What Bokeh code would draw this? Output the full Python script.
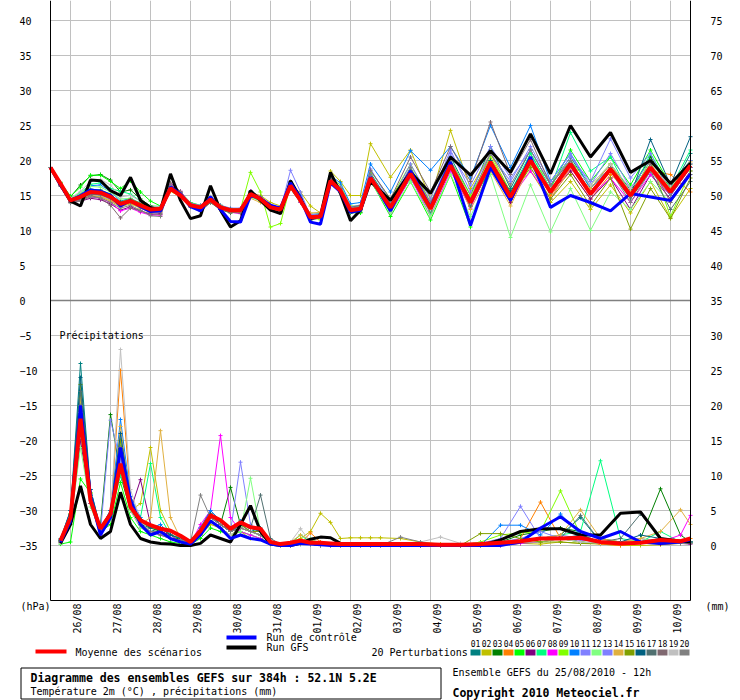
import math
from bokeh.plotting import figure
from bokeh.models import Range1d, LinearAxis, FixedTicker
from bokeh.core.properties import value
from bokeh.embed import file_html
from bokeh.resources import INLINE

# ---------------- time axes (hours after 25/08/2010 12h) ----------------
TEMP_HOURS = list(range(0, 193, 6)) + list(range(204, 385, 12))
PRECIP_HOURS = list(range(6, 193, 6)) + list(range(198, 379, 12)) + [384]

DATE_LABELS = ["26/08", "27/08", "28/08", "29/08", "30/08", "31/08", "01/09", "02/09",
               "03/09", "04/09", "05/09", "06/09", "07/09", "08/09", "09/09", "10/09"]
DAY_HOURS = [12 + 24 * k for k in range(16)]
LEFT_TICKS = list(range(-35, 41, 5))
RIGHT_TICKS = list(range(0, 76, 5))
PRECIP_BASE = -35  # 0 mm on the left scale

# ---------------- temperature 2m (degC) ----------------
T_MEAN = [19.0, 16.7, 14.3, 14.8, 15.5, 15.4, 14.8, 13.8, 14.2, 13.6, 13.0, 13.1, 16.0, 15.0, 13.6, 13.3, 14.4,
          13.3, 12.9, 12.9, 15.2, 14.5, 13.3, 13.0, 16.4, 14.3, 11.9, 12.0, 17.1, 15.7, 12.9, 13.1, 17.5,
          13.3, 18.1, 13.1, 19.3, 14.0, 19.8, 14.8, 20.0, 15.5, 19.5, 15.2, 18.8, 15.0, 19.0, 15.5, 19.3]
T_CTRL = [19.0, 16.5, 14.3, 15.0, 15.8, 15.6, 15.0, 13.5, 14.3, 13.4, 12.7, 12.8, 16.2, 15.2, 13.4, 12.8, 14.8,
          13.0, 11.3, 11.2, 15.0, 14.6, 13.6, 13.2, 16.8, 14.6, 11.2, 10.9, 16.8, 15.5, 12.6, 12.9, 17.6,
          12.8, 18.5, 13.3, 19.8, 10.7, 19.0, 14.3, 20.5, 13.3, 15.0, 14.0, 12.8, 15.3, 14.8, 14.3, 18.1]
T_GFS = [19.0, 16.5, 14.2, 13.5, 17.2, 17.1, 15.7, 15.0, 17.6, 14.3, 13.3, 12.9, 18.1, 14.3, 11.7, 12.1, 16.4,
         12.9, 10.5, 11.4, 15.7, 14.3, 12.9, 12.4, 17.1, 14.6, 11.7, 12.1, 18.3, 15.3, 11.4, 12.9, 17.0,
         14.3, 18.3, 15.3, 20.5, 17.9, 21.4, 18.3, 23.8, 18.1, 25.0, 20.5, 24.0, 18.3, 20.0, 16.7, 19.6]

T01 = [19.0, 16.6, 14.5, 15.0, 15.9, 15.8, 15.2, 14.0, 14.4, 13.8, 13.2, 13.4, 16.3, 15.2, 13.8, 13.5, 14.7, 13.6, 13.1, 13.0, 15.6, 14.8, 13.6, 13.3, 16.8, 14.7, 12.3, 12.4, 17.6, 16.0, 13.4, 13.5, 18.2,
       13.8, 19.0, 13.6, 20.5, 15.0, 22.0, 16.0, 21.5, 16.5, 20.5, 16.0, 19.5, 15.8, 20.5, 15.5, 21.0]
T02 = [19.0, 16.4, 14.0, 14.4, 15.0, 14.8, 14.2, 13.4, 13.8, 13.2, 12.6, 12.8, 15.6, 14.8, 13.4, 13.2, 14.2, 13.2, 12.6, 12.6, 15.4, 15.0, 14.0, 13.5, 16.0, 15.5, 13.5, 12.5, 18.5, 17.0, 15.0, 15.0, 22.4,
       17.6, 21.5, 14.5, 24.3, 16.0, 21.0, 15.5, 18.5, 14.0, 17.0, 13.0, 16.5, 12.5, 17.0, 11.8, 16.0]
T03 = [19.0, 16.8, 14.8, 16.5, 17.8, 18.0, 17.2, 15.5, 15.8, 14.5, 13.5, 13.4, 16.2, 15.0, 13.5, 13.0, 14.0, 13.0, 12.5, 12.8, 15.0, 14.2, 13.0, 12.8, 16.0, 14.0, 11.5, 11.8, 17.0, 15.4, 12.5, 12.6, 17.0,
       12.8, 17.5, 12.8, 18.8, 13.5, 19.0, 14.5, 19.5, 15.2, 19.8, 15.0, 19.0, 15.5, 20.5, 16.0, 19.5]
T04 = [19.0, 16.7, 14.2, 14.6, 15.3, 15.1, 14.5, 13.6, 14.0, 13.4, 12.8, 12.9, 15.8, 14.8, 13.4, 13.1, 14.3, 13.2, 12.8, 12.7, 15.0, 14.3, 13.1, 12.8, 16.2, 14.2, 11.8, 12.1, 17.3, 15.8, 13.0, 13.0, 17.7,
       13.0, 18.0, 12.6, 19.0, 13.5, 19.5, 14.0, 20.0, 15.0, 18.5, 14.5, 18.0, 15.5, 18.5, 18.0, 15.5]
T05 = [19.0, 16.9, 14.9, 16.2, 17.9, 17.9, 17.0, 16.0, 17.1, 15.5, 14.2, 13.5, 16.5, 15.5, 14.0, 13.6, 14.8, 13.6, 13.0, 13.1, 15.5, 14.6, 13.4, 13.2, 16.3, 14.5, 12.2, 12.0, 17.0, 15.5, 12.6, 12.5, 17.2,
       12.0, 17.0, 11.5, 18.0, 10.5, 20.0, 14.0, 21.0, 16.0, 21.5, 17.0, 20.5, 16.5, 21.5, 16.5, 20.0]
T06 = [19.0, 16.5, 14.0, 14.2, 14.6, 14.4, 13.8, 12.9, 13.4, 12.8, 12.3, 12.4, 16.3, 15.3, 13.5, 13.0, 14.5, 13.4, 12.8, 12.9, 15.3, 14.4, 13.1, 12.9, 16.5, 14.4, 12.0, 12.2, 17.4, 15.9, 13.0, 13.3, 17.6,
       13.5, 18.3, 13.5, 19.5, 14.5, 19.0, 14.0, 19.5, 15.5, 18.5, 14.5, 17.5, 13.0, 18.0, 14.5, 18.5]
T07 = [19.0, 16.8, 14.6, 15.4, 16.6, 16.8, 16.0, 15.6, 15.2, 14.2, 13.4, 13.5, 16.0, 15.0, 13.7, 13.4, 14.2, 13.2, 12.9, 13.0, 14.8, 14.2, 13.2, 12.9, 16.0, 14.0, 11.7, 11.9, 16.8, 15.5, 12.8, 13.0, 17.0,
       13.0, 17.5, 12.5, 19.0, 13.5, 20.0, 15.5, 21.0, 16.0, 24.0, 18.5, 20.5, 15.0, 21.0, 16.0, 21.5]
T08 = [19.0, 16.6, 14.1, 14.3, 14.8, 14.6, 14.0, 12.8, 13.2, 12.6, 12.2, 12.2, 16.6, 15.6, 13.8, 13.2, 14.6, 13.4, 12.6, 12.4, 15.6, 14.8, 13.4, 13.0, 16.2, 14.0, 11.6, 11.8, 16.8, 15.6, 13.0, 13.1, 17.4,
       12.5, 17.6, 12.0, 18.5, 13.2, 19.5, 14.5, 18.5, 14.5, 19.0, 15.0, 17.5, 14.0, 18.0, 15.0, 19.0]
T09 = [19.0, 16.8, 14.4, 14.7, 15.4, 15.2, 14.7, 13.8, 14.3, 13.6, 13.0, 13.2, 16.0, 15.2, 13.8, 13.5, 14.5, 13.5, 13.0, 13.0, 18.3, 15.5, 10.5, 11.0, 16.5, 14.5, 12.0, 11.5, 17.5, 16.5, 13.5, 13.5, 18.5,
       14.5, 19.5, 14.0, 20.0, 15.0, 20.5, 15.5, 20.0, 17.0, 20.0, 16.5, 19.5, 15.0, 20.0, 12.0, 18.5]
T10 = [19.0, 16.7, 14.3, 15.2, 16.4, 16.5, 15.6, 14.2, 14.6, 13.9, 13.2, 13.3, 16.1, 15.1, 13.6, 13.2, 14.2, 13.1, 12.7, 12.8, 15.2, 14.6, 13.5, 13.3, 17.0, 15.0, 12.0, 11.8, 17.8, 16.8, 13.8, 14.0, 19.5,
       15.5, 21.4, 18.6, 22.0, 17.5, 25.0, 19.0, 25.0, 17.0, 21.0, 16.0, 19.0, 15.5, 19.5, 15.0, 19.0]
T11 = [19.0, 16.6, 14.2, 14.7, 15.5, 15.5, 15.0, 13.9, 14.2, 13.5, 12.9, 13.0, 16.0, 14.9, 13.5, 13.1, 14.3, 13.2, 12.8, 12.7, 15.1, 14.5, 13.3, 13.0, 18.6, 15.5, 12.0, 12.2, 17.2, 15.8, 13.0, 13.1, 17.8,
       13.4, 18.5, 13.5, 21.0, 16.5, 22.0, 17.5, 21.5, 16.5, 20.5, 17.0, 23.1, 17.5, 21.0, 15.5, 19.5]
T12 = [19.0, 16.8, 14.6, 15.3, 16.3, 16.2, 15.5, 14.5, 14.6, 13.8, 13.1, 13.2, 16.1, 15.0, 13.5, 13.2, 14.4, 13.3, 12.9, 12.9, 15.0, 14.4, 13.2, 12.9, 16.3, 14.2, 11.8, 12.0, 16.9, 15.5, 12.6, 12.8, 17.0,
       12.5, 17.0, 12.0, 18.0, 12.0, 18.0, 9.0, 16.5, 9.8, 16.0, 10.0, 15.5, 13.0, 17.0, 14.0, 18.0]
T13 = [19.0, 16.5, 14.2, 14.5, 15.2, 15.0, 14.4, 13.5, 14.0, 13.4, 12.8, 12.8, 16.4, 15.4, 13.9, 13.6, 14.8, 13.6, 13.2, 13.2, 15.4, 14.6, 13.3, 13.1, 17.0, 14.8, 12.3, 12.3, 17.6, 16.2, 13.4, 13.6, 18.8,
       14.0, 19.5, 14.5, 21.5, 15.5, 21.0, 17.0, 22.0, 17.0, 21.0, 16.5, 21.0, 16.0, 20.0, 16.5, 20.0]
T14 = [19.0, 16.6, 14.3, 14.4, 14.9, 14.9, 14.3, 13.4, 13.9, 13.2, 12.6, 12.6, 15.8, 14.8, 13.3, 13.0, 14.2, 13.2, 12.8, 12.7, 14.6, 14.0, 13.0, 12.8, 16.0, 14.2, 12.5, 12.6, 16.8, 15.6, 13.2, 13.3, 17.3,
       13.6, 18.6, 13.8, 19.5, 13.0, 18.5, 13.5, 19.5, 14.5, 19.0, 16.0, 19.5, 15.5, 19.5, 16.0, 19.8]
T15 = [19.0, 16.7, 14.5, 15.0, 15.7, 15.6, 15.0, 14.1, 14.5, 13.9, 13.3, 13.3, 16.2, 15.1, 13.7, 13.4, 14.6, 13.5, 13.1, 13.1, 15.0, 14.3, 13.1, 12.8, 16.5, 14.5, 12.0, 12.0, 17.2, 15.6, 12.8, 12.9, 17.6,
       13.2, 18.5, 13.5, 19.5, 14.5, 20.0, 15.0, 19.0, 14.5, 18.0, 13.5, 17.5, 10.2, 16.0, 11.7, 17.5]
T16 = [19.0, 16.6, 14.3, 14.8, 15.6, 15.6, 15.0, 14.0, 14.3, 13.6, 13.0, 13.1, 16.3, 15.4, 13.7, 13.3, 14.6, 13.4, 13.0, 13.0, 15.3, 14.5, 13.4, 13.1, 16.5, 14.5, 12.1, 12.2, 17.3, 15.9, 13.1, 13.2, 17.7,
       13.6, 18.5, 13.3, 19.5, 14.0, 20.0, 15.5, 20.5, 15.8, 20.0, 15.5, 19.0, 15.0, 23.0, 16.5, 23.4]
T17 = [19.0, 16.5, 14.1, 14.5, 15.2, 15.1, 14.6, 13.6, 14.1, 13.5, 12.9, 13.0, 15.9, 14.9, 13.4, 13.1, 14.3, 13.2, 12.8, 12.8, 15.1, 14.4, 13.2, 12.9, 16.3, 14.2, 11.9, 12.0, 17.0, 15.7, 12.8, 13.0, 17.4,
       13.0, 18.0, 12.8, 19.0, 13.5, 19.5, 14.5, 20.0, 15.5, 19.5, 15.0, 18.5, 14.5, 18.5, 13.0, 17.0]
T18 = [19.0, 16.4, 14.0, 14.3, 15.0, 14.6, 13.6, 11.8, 13.2, 12.8, 12.4, 12.3, 16.8, 15.6, 13.6, 12.7, 14.0, 13.0, 12.6, 12.5, 15.5, 14.8, 13.5, 13.2, 16.6, 14.3, 11.8, 11.9, 17.5, 16.0, 13.3, 13.6, 18.6,
       14.5, 20.5, 15.5, 22.0, 17.0, 25.5, 18.0, 23.0, 16.5, 20.0, 15.5, 19.0, 15.0, 19.5, 14.0, 18.0]
T19 = [19.0, 16.7, 14.6, 15.6, 17.0, 17.3, 16.5, 14.8, 15.0, 14.2, 13.4, 13.4, 16.0, 15.0, 13.6, 13.3, 14.4, 13.3, 12.9, 13.0, 15.2, 14.5, 13.4, 13.1, 16.5, 14.4, 12.0, 12.1, 17.2, 15.8, 13.0, 13.2, 17.6,
       13.5, 18.2, 13.0, 19.0, 14.0, 19.5, 15.0, 20.5, 16.0, 19.5, 16.5, 19.5, 16.0, 19.0, 16.5, 19.5]
T20 = [19.0, 16.3, 13.9, 14.2, 14.8, 14.7, 14.0, 13.2, 13.6, 12.9, 12.1, 12.0, 16.4, 15.4, 13.8, 13.4, 14.7, 13.5, 13.0, 12.8, 15.1, 14.4, 13.0, 12.6, 16.6, 14.5, 12.0, 12.0, 17.6, 16.1, 13.2, 13.4, 18.0,
       13.8, 19.0, 14.0, 20.0, 14.5, 21.0, 16.5, 21.5, 16.5, 20.0, 15.0, 18.5, 14.0, 18.5, 15.0, 19.0]

# ---------------- precipitation (mm) ----------------
R_MEAN = [0.7, 4.0, 18.1, 6.4, 2.4, 4.5, 11.7, 5.5, 3.6, 2.9, 2.4, 2.1, 1.4, 0.5, 2.1, 4.3, 3.6, 2.4, 3.3, 2.6,
          2.4, 0.5, 0.2, 0.4, 0.7, 0.4, 0.4, 0.3, 0.2, 0.2, 0.2, 0.2,
          0.2, 0.2, 0.2, 0.1, 0.1, 0.2, 0.4, 0.6, 1.0, 1.0, 1.1, 0.5, 0.3, 0.4, 0.8, 0.6, 1.0]
R_CTRL = [0.5, 3.5, 20.0, 7.0, 1.5, 4.0, 14.0, 6.5, 3.0, 1.5, 2.0, 1.0, 0.5, 0.2, 1.5, 3.5, 2.5, 1.0, 1.5, 1.0,
          0.8, 0.2, 0.0, 0.0, 0.3, 0.2, 0.1, 0.0, 0.0, 0.0, 0.0, 0.0,
          0.0, 0.0, 0.0, 0.0, 0.0, 0.0, 0.0, 0.5, 2.5, 4.1, 2.0, 1.0, 2.0, 0.5, 0.3, 0.5, 0.8]
R_GFS = [0.3, 3.0, 8.5, 3.0, 1.0, 2.0, 7.6, 3.0, 1.0, 0.5, 0.3, 0.2, 0.0, 0.0, 0.3, 1.5, 1.0, 0.5, 3.0, 5.7,
         2.0, 0.2, 0.0, 0.0, 0.3, 0.9, 1.2, 1.1, 0.3, 0.0, 0.0, 0.0,
         0.0, 0.0, 0.1, 0.0, 0.0, 0.0, 0.8, 2.0, 2.4, 2.4, 1.5, 1.5, 4.6, 4.8, 1.0, 0.6, 0.5]

R01 = [1.0, 5.0, 26.0, 8.0, 2.0, 5.0, 14.0, 6.0, 3.5, 2.0, 2.5, 1.5, 1.0, 0.5, 2.5, 5.0, 3.5, 2.0, 3.0, 2.0, 2.5, 0.5, 0.2, 0.0, 0.5, 0.2, 0.0, 0.0, 0.0, 0.0, 0.0, 0.0,
       0.0, 0.0, 0.0, 0.0, 0.0, 0.0, 0.2, 0.5, 1.0, 1.5, 4.0, 0.5, 0.2, 0.5, 1.0, 0.5, 0.5]
R02 = [0.5, 4.5, 22.0, 7.0, 2.0, 4.0, 12.0, 5.0, 6.0, 14.0, 5.0, 2.0, 1.0, 0.5, 1.5, 3.0, 2.5, 1.5, 2.0, 1.0, 1.0, 0.3, 0.1, 0.5, 1.0, 2.0, 4.6, 3.3, 1.0, 1.1, 1.1, 1.1,
       1.1, 1.0, 0.5, 0.2, 0.0, 0.1, 0.5, 0.3, 0.2, 0.5, 0.3, 0.2, 0.0, 0.0, 0.1, 0.3, 0.5]
R03 = [0.7, 4.0, 20.0, 6.0, 3.0, 18.7, 10.0, 5.0, 3.0, 2.5, 2.0, 1.0, 1.0, 0.3, 2.0, 4.0, 3.0, 8.3, 3.0, 2.0, 1.5, 0.3, 0.0, 0.0, 0.2, 0.3, 0.0, 0.0, 0.0, 0.0, 0.0, 0.0,
       0.0, 0.0, 0.0, 0.0, 0.0, 0.0, 0.5, 1.5, 2.0, 2.5, 2.0, 1.0, 0.5, 1.0, 8.1, 1.5, 0.5]
R04 = [0.5, 3.5, 17.0, 6.0, 2.0, 4.0, 25.0, 7.0, 3.0, 2.0, 2.0, 1.5, 1.0, 0.5, 1.5, 4.0, 3.0, 2.0, 3.5, 2.5, 2.0, 0.5, 0.0, 0.0, 0.3, 1.8, 0.5, 0.0, 0.0, 0.0, 0.0, 0.0,
       0.0, 0.0, 0.0, 0.0, 0.0, 0.0, 0.2, 1.0, 6.2, 1.0, 0.5, 0.2, 0.0, 0.5, 0.3, 0.5, 1.0]
R05 = [0.2, 0.5, 9.5, 7.5, 2.0, 3.0, 9.0, 4.0, 2.0, 1.5, 1.0, 0.5, 0.3, 0.2, 1.0, 2.5, 2.0, 1.5, 2.0, 1.5, 1.0, 0.2, 0.0, 0.0, 0.2, 0.5, 0.0, 0.0, 0.0, 0.0, 0.0, 0.0,
       0.0, 0.0, 0.0, 0.0, 0.0, 0.0, 0.0, 0.3, 0.5, 1.0, 0.5, 0.3, 0.2, 0.3, 0.5, 0.5, 0.5]
R06 = [0.5, 3.0, 15.0, 6.0, 1.5, 3.5, 12.0, 5.0, 9.4, 3.0, 2.0, 1.5, 0.5, 0.3, 2.0, 4.5, 3.0, 2.0, 2.5, 2.0, 1.5, 0.3, 0.0, 0.0, 0.3, 0.5, 0.0, 0.0, 0.0, 0.0, 0.0, 0.0,
       0.0, 0.0, 0.0, 0.0, 0.0, 0.0, 0.2, 0.5, 1.0, 1.2, 0.5, 0.3, 0.3, 0.5, 0.2, 0.3, 0.2]
R07 = [0.6, 4.0, 16.0, 7.0, 2.5, 4.5, 10.0, 6.0, 4.0, 11.7, 4.0, 1.5, 1.0, 0.5, 1.5, 3.5, 2.5, 1.5, 2.5, 2.0, 1.5, 0.3, 0.0, 0.3, 1.5, 0.5, 0.0, 0.0, 0.0, 0.0, 0.0, 0.0,
       0.0, 0.0, 0.0, 0.0, 0.0, 0.0, 0.2, 0.5, 1.0, 1.5, 2.0, 12.1, 1.0, 0.5, 2.0, 0.5, 0.5]
R08 = [0.4, 3.5, 19.0, 6.0, 2.0, 3.5, 13.0, 5.0, 2.5, 2.0, 1.5, 1.0, 0.5, 0.3, 3.0, 5.0, 15.7, 4.0, 2.0, 1.5, 1.0, 0.2, 0.0, 0.0, 0.2, 0.3, 0.0, 0.0, 0.0, 0.0, 0.0, 0.0,
       0.0, 0.0, 0.0, 0.0, 0.0, 0.0, 0.0, 0.3, 0.5, 1.0, 0.8, 0.5, 0.5, 1.0, 0.5, 1.5, 4.3]
R09 = [0.6, 4.5, 21.0, 7.5, 2.5, 4.0, 15.0, 6.0, 3.0, 2.0, 2.0, 1.0, 0.8, 0.3, 2.0, 4.0, 3.0, 2.0, 3.0, 2.0, 1.5, 0.2, 0.0, 0.0, 0.5, 0.3, 0.0, 0.0, 0.0, 0.0, 0.0, 0.0,
       0.0, 0.0, 0.0, 0.0, 0.0, 0.5, 1.5, 1.8, 2.0, 7.8, 1.5, 0.5, 0.3, 0.5, 0.5, 0.3, 0.5]
R10 = [0.8, 5.0, 22.0, 8.0, 2.5, 5.0, 18.0, 7.0, 4.0, 2.5, 3.0, 1.5, 1.0, 0.5, 2.5, 5.0, 3.5, 2.5, 3.5, 2.5, 2.0, 0.5, 0.2, 0.0, 0.3, 0.2, 0.0, 0.0, 0.0, 0.0, 0.0, 0.0,
       0.0, 0.0, 0.0, 0.0, 0.0, 0.0, 2.9, 2.9, 1.5, 4.5, 1.5, 0.5, 0.3, 0.5, 1.0, 0.5, 0.5]
R11 = [0.5, 4.0, 18.0, 6.5, 2.0, 17.9, 12.0, 6.0, 3.0, 2.0, 2.0, 1.0, 0.5, 0.3, 2.0, 4.0, 3.0, 2.0, 11.9, 3.0, 2.0, 0.3, 0.0, 0.0, 0.3, 0.2, 0.0, 0.0, 0.0, 0.0, 0.0, 0.0,
       0.0, 0.0, 0.0, 0.0, 0.0, 0.3, 1.0, 5.6, 1.0, 1.5, 1.0, 0.5, 0.3, 0.5, 0.5, 0.3, 0.5]
R12 = [0.4, 3.0, 14.0, 5.5, 2.0, 3.5, 11.0, 5.0, 2.5, 2.0, 1.5, 1.0, 0.5, 0.3, 1.5, 3.5, 2.5, 1.5, 2.0, 9.6, 2.0, 0.3, 0.0, 0.0, 0.5, 1.0, 0.3, 0.0, 0.0, 0.0, 0.0, 0.0,
       0.0, 0.0, 0.0, 0.0, 0.0, 0.0, 0.2, 0.5, 0.5, 1.0, 0.5, 0.3, 0.3, 1.0, 0.5, 0.5, 0.3]
R13 = [0.5, 3.5, 20.0, 7.0, 2.0, 4.0, 16.0, 6.0, 3.0, 2.0, 1.5, 1.0, 0.5, 0.3, 2.0, 4.0, 3.0, 2.0, 3.0, 2.0, 1.5, 0.3, 0.0, 0.0, 0.3, 0.2, 0.0, 0.0, 0.0, 0.0, 0.0, 0.0,
       0.0, 0.0, 0.0, 0.0, 0.0, 0.0, 0.5, 1.0, 2.0, 1.0, 0.8, 0.5, 0.3, 0.3, 0.5, 0.5, 0.3]
R14 = [0.5, 4.0, 21.0, 7.0, 2.0, 4.0, 17.0, 6.0, 3.0, 4.0, 16.4, 4.0, 1.0, 0.5, 1.5, 3.5, 2.5, 1.5, 2.5, 2.0, 1.5, 0.3, 0.0, 0.5, 1.5, 0.8, 0.3, 0.0, 0.0, 0.0, 0.0, 0.0,
       0.0, 0.0, 0.0, 0.0, 0.0, 0.0, 0.3, 0.5, 1.0, 1.5, 5.1, 1.0, 0.5, 1.0, 2.0, 5.1, 3.0]
R15 = [0.7, 4.5, 23.0, 7.5, 2.5, 4.5, 15.0, 6.5, 3.5, 2.5, 2.5, 1.5, 1.0, 0.5, 2.0, 4.5, 3.0, 2.0, 3.0, 2.0, 2.0, 0.5, 0.0, 0.0, 0.3, 0.3, 0.0, 0.0, 0.0, 0.0, 0.0, 0.0,
       0.0, 0.0, 0.0, 0.0, 0.0, 1.7, 1.7, 1.0, 0.5, 0.5, 0.3, 0.3, 0.2, 0.3, 0.5, 0.3, 0.3]
R16 = [0.8, 5.0, 24.0, 8.0, 2.5, 5.0, 16.0, 6.5, 3.5, 2.5, 2.5, 1.5, 1.0, 0.5, 2.0, 4.5, 3.0, 2.0, 3.0, 2.5, 2.0, 0.5, 0.2, 0.0, 0.3, 0.2, 0.0, 0.0, 0.0, 0.0, 0.0, 0.0,
       0.0, 0.0, 0.0, 0.0, 0.0, 0.0, 0.3, 0.5, 1.0, 1.0, 1.5, 0.5, 0.5, 1.5, 1.0, 0.5, 0.5]
R17 = [0.6, 4.5, 22.0, 7.0, 2.5, 4.5, 14.0, 6.0, 3.0, 2.0, 2.0, 1.0, 0.8, 0.5, 2.0, 4.0, 3.0, 2.0, 3.0, 2.5, 7.2, 1.0, 0.2, 0.0, 0.3, 0.2, 0.0, 0.0, 0.0, 0.0, 0.0, 0.0,
       0.0, 0.0, 0.0, 0.0, 0.0, 0.0, 0.3, 0.5, 1.0, 1.0, 4.3, 0.5, 1.0, 4.5, 1.0, 0.5, 0.5]
R18 = [0.5, 3.5, 18.0, 6.0, 2.0, 4.0, 13.0, 5.5, 3.0, 2.0, 1.5, 1.0, 0.5, 0.3, 2.0, 4.0, 3.0, 2.0, 2.5, 2.0, 1.5, 0.3, 0.0, 0.0, 0.2, 0.2, 0.0, 0.0, 0.0, 0.0, 0.0, 0.0,
       0.0, 0.0, 0.0, 0.0, 0.0, 0.0, 0.2, 0.5, 1.0, 1.0, 1.0, 0.5, 0.3, 0.5, 0.5, 0.3, 0.3]
R19 = [0.5, 4.0, 19.0, 7.0, 2.0, 4.0, 28.0, 8.0, 3.5, 2.0, 2.0, 1.0, 0.5, 0.3, 1.5, 3.5, 2.5, 1.5, 2.5, 2.0, 1.5, 0.3, 0.0, 0.5, 2.4, 0.5, 0.0, 0.0, 0.0, 0.0, 0.0, 0.0,
       0.0, 0.0, 0.5, 1.2, 0.3, 0.0, 0.2, 0.5, 1.0, 1.0, 0.5, 0.3, 0.3, 0.5, 0.5, 0.3, 0.3]
R20 = [0.6, 4.0, 20.0, 7.0, 2.0, 4.0, 14.0, 6.0, 3.0, 2.0, 2.0, 1.0, 0.8, 0.5, 7.2, 4.0, 3.0, 2.0, 2.5, 2.0, 1.5, 0.3, 0.0, 0.0, 0.2, 0.2, 0.0, 0.0, 0.0, 0.0, 0.0, 0.0,
       0.0, 1.2, 0.5, 0.0, 0.0, 0.0, 0.2, 0.5, 1.0, 1.0, 1.0, 0.5, 0.3, 0.5, 0.5, 0.3, 0.3]

MEMBER_NAMES = ["01", "02", "03", "04", "05", "06", "07", "08", "09", "10",
                "11", "12", "13", "14", "15", "16", "17", "18", "19", "20"]
MEMBER_COLORS = ["#008080", "#c0c000", "#008000", "#ff8000", "#00ff00", "#800080", "#00ff80", "#ff00ff",
                 "#80ff00", "#0080ff", "#8080ff", "#80ff80", "#7f7fff", "#e0b040", "#80a000", "#006080",
                 "#507070", "#806870", "#c0c0c0", "#808080"]
MEMBER_T = [T01, T02, T03, T04, T05, T06, T07, T08, T09, T10, T11, T12, T13, T14, T15, T16, T17, T18, T19, T20]
MEMBER_R = [R01, R02, R03, R04, R05, R06, R07, R08, R09, R10, R11, R12, R13, R14, R15, R16, R17, R18, R19, R20]

FONT = "DejaVu Sans Mono"

# page pixel -> data helpers (used only to place furniture: legend, box, captions)
def hx(X):
    return (X - 50) * 0.6

def vy(Y):
    return (300 - Y) / 7.0

TOP, BOTTOM = vy(0), vy(600)
START, END = TEMP_HOURS[0], TEMP_HOURS[-1]

# ---------------- figure: the frame covers the whole canvas ----------------
p = figure(width=740, height=700, x_range=Range1d(hx(0), hx(740)), y_range=Range1d(vy(700), vy(0)),
           output_backend="svg", toolbar_location=None, x_axis_location=None, y_axis_location=None,
           min_border=0, background_fill_color="white", border_fill_color="white", outline_line_color=None)
p.grid.visible = False
p.extra_y_ranges = {"mm": Range1d(vy(700) - PRECIP_BASE, vy(0) - PRECIP_BASE)}

# grid lines
p.segment(x0=DAY_HOURS, y0=[BOTTOM] * len(DAY_HOURS), x1=DAY_HOURS, y1=[TOP] * len(DAY_HOURS),
          line_color="#c0c0c0", line_width=1)
hticks = [v for v in LEFT_TICKS if v != 0]
p.segment(x0=[START] * len(hticks), y0=hticks, x1=[END] * len(hticks), y1=hticks,
          line_color="#c0c0c0", line_width=1)
p.segment(x0=[START], y0=[0], x1=[END], y1=[0], line_color="#808080", line_width=1.5)

# ---------------- series ----------------
def shift(vals):
    return [v + PRECIP_BASE for v in vals]

for name, col, tv, rv in zip(MEMBER_NAMES, MEMBER_COLORS, MEMBER_T, MEMBER_R):
    p.line(TEMP_HOURS[:len(tv)], tv, line_color=col, line_width=1)
    p.line(PRECIP_HOURS[:len(rv)], shift(rv), line_color=col, line_width=1)
    p.scatter(TEMP_HOURS[:len(tv)] + PRECIP_HOURS[:len(rv)], tv + shift(rv),
              marker="cross", size=4, line_color=col, line_width=1)

p.line(TEMP_HOURS, T_GFS, line_color="black", line_width=3)
p.line(PRECIP_HOURS, shift(R_GFS), line_color="black", line_width=3)
p.line(TEMP_HOURS, T_CTRL, line_color="#0000ff", line_width=3)
p.line(PRECIP_HOURS, shift(R_CTRL), line_color="#0000ff", line_width=3)
p.line(TEMP_HOURS, T_MEAN, line_color="#ff0000", line_width=4)
p.line(PRECIP_HOURS, shift(R_MEAN), line_color="#ff0000", line_width=4)

# ---------------- axes (fixed inside the canvas) ----------------
def style_axis(ax, standoff, line=True):
    ax.axis_line_color = "black" if line else None
    ax.axis_line_width = 1
    ax.major_tick_line_color = None
    ax.minor_tick_line_color = None
    ax.major_tick_out = 0
    ax.major_tick_in = 0
    ax.minor_tick_out = 0
    ax.minor_tick_in = 0
    ax.major_label_text_font = FONT
    ax.major_label_text_font_size = "10px"
    ax.major_label_text_color = "black"
    ax.major_label_standoff = standoff

# left axis: three groups so that labels read left-aligned as in the original
groups = [([v for v in LEFT_TICKS if len(str(v)) == 1], 25, False),
          ([v for v in LEFT_TICKS if len(str(v)) == 2], 19, True),
          ([v for v in LEFT_TICKS if len(str(v)) == 3], 13, False)]
for ticks, standoff, line in groups:
    ax = LinearAxis(ticker=FixedTicker(ticks=ticks), fixed_location=START, bounds=(BOTTOM, TOP))
    style_axis(ax, standoff, line)
    p.add_layout(ax, "left")

right_axis = LinearAxis(y_range_name="mm", ticker=FixedTicker(ticks=RIGHT_TICKS), fixed_location=END,
                        bounds=(BOTTOM - PRECIP_BASE, TOP - PRECIP_BASE))
style_axis(right_axis, 20)
p.add_layout(right_axis, "right")

date_ticks = [h + 4 for h in DAY_HOURS]
bottom_axis = LinearAxis(ticker=FixedTicker(ticks=date_ticks), fixed_location=BOTTOM, bounds=(START, END))
bottom_axis.major_label_overrides = {t: lab for t, lab in zip(date_ticks, DATE_LABELS)}
bottom_axis.major_label_orientation = math.pi / 2
style_axis(bottom_axis, 3)
p.add_layout(bottom_axis, "below")

# ---------------- captions, legend and title box ----------------
def text(s, X, Y, size="10px", bold=False, align="left"):
    p.text(x=[hx(X)], y=[vy(Y)], text=[s], text_font=value(FONT), text_font_size=value(size),
           text_font_style="bold" if bold else "normal", text_align=align,
           text_baseline="middle", text_color="black")

def bar(X0, X1, Y0, Y1, color):
    p.quad(left=[hx(X0)], right=[hx(X1)], top=[vy(Y0)], bottom=[vy(Y1)],
           fill_color=color, line_color=None)

text("Précipitations", 59, 335)
text("(hPa)", 20, 606)
text("(mm)", 705, 606)

bar(35, 66, 649, 653, "#ff0000")
text("Moyenne des scénarios", 75, 652)
bar(226, 256, 635, 639, "#0000ff")
text("Run de contrôle", 266, 637)
bar(226, 256, 645, 649, "#000000")
text("Run GFS", 266, 647)
text("20 Perturbations", 371, 652)
for i, (name, col) in enumerate(zip(MEMBER_NAMES, MEMBER_COLORS)):
    bar(470 + 11 * i, 480 + 11 * i, 649, 655, col)
    text(name, 475 + 11 * i, 643, size="8px", align="center")

p.quad(left=[hx(20.5)], right=[hx(440.5)], top=[vy(667.5)], bottom=[vy(698.5)],
       fill_color=None, line_color="black", line_width=1)
text("Diagramme des ensembles GEFS sur 384h : 52.1N 5.2E", 30, 677, size="11.5px", bold=True)
text("Température 2m (°C) , précipitations (mm)", 30, 691)
text("Ensemble GEFS du 25/08/2010 - 12h", 452, 672)
text("Copyright 2010 Meteociel.fr", 452, 692, size="11.5px", bold=True)

open("out.html", "w").write(file_html(p, INLINE))
